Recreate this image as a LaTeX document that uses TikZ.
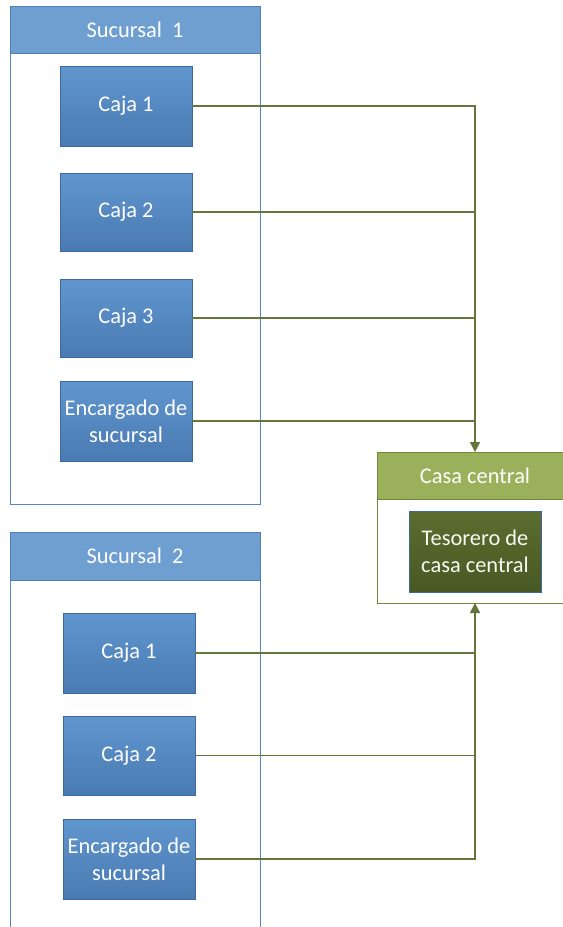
\documentclass[tikz,border=0pt]{standalone}
\usepackage{fontspec}
\setmainfont{Carlito}
\usetikzlibrary{arrows.meta}
\definecolor{contborder}{HTML}{5A86B8}
\definecolor{headfill}{HTML}{6E9FD0}
\definecolor{headborder}{HTML}{4F7FB5}
\definecolor{boxtop}{HTML}{6096CE}
\definecolor{boxbot}{HTML}{4A7AB2}
\definecolor{boxborder}{HTML}{3C6A9E}
\definecolor{ccfill}{HTML}{9BB05A}
\definecolor{ccborder}{HTML}{74863C}
\definecolor{testop}{HTML}{5C6D30}
\definecolor{tesbot}{HTML}{485823}
\definecolor{conncol}{HTML}{66763A}
\begin{document}
\begin{tikzpicture}[x=1bp,y=-1bp,
  every node/.style={inner sep=0pt,outer sep=0pt},
  container/.style={draw=contborder,line width=1bp,fill=white,anchor=north west},
  ccont/.style={draw=ccborder,line width=1bp,fill=white,anchor=north west},
  header/.style={draw=headborder,line width=1bp,fill=headfill,anchor=north west,text=white,font=\fontsize{22.5}{26}\selectfont},
  ccheader/.style={draw=ccborder,line width=1bp,fill=ccfill,anchor=north west,text=white,font=\fontsize{22.5}{26}\selectfont},
  bbox/.style={draw=boxborder,line width=0.8bp,top color=boxtop,bottom color=boxbot,anchor=north west,
    minimum width=132bp,minimum height=80bp,text=white,align=center,font=\fontsize{22.5}{27.5}\selectfont},
  tbox/.style={draw=boxborder,line width=0.8bp,top color=testop,bottom color=tesbot,anchor=north west,
    minimum width=132bp,minimum height=81bp,text=white!92!ccfill,align=center,font=\fontsize{22.5}{27.5}\selectfont},
  conn/.style={draw=conncol,line width=1.4bp},
  tip/.style={-{Triangle[width=10bp,length=10bp]}}
]
\useasboundingbox (0,0) rectangle (563,927);
\fill[white] (0,0) rectangle (563,927);

% Sucursal 1
\node[container,minimum width=250bp,minimum height=498bp] (s1) at (10,6) {};
\node[header,minimum width=250bp,minimum height=47bp] (s1h) at (10,6) {Sucursal\hspace{0.45em}1};
\node[bbox] (a1) at (60,66) {Caja 1};
\node[bbox,minimum height=78bp] (a2) at (60,173) {Caja 2};
\node[bbox,minimum height=78bp] (a3) at (60,279) {Caja 3};
\node[bbox] (a4) at (60,381) {Encargado de\\sucursal};

% Sucursal 2
\node[container,minimum width=250bp,minimum height=400bp] (s2) at (10,532) {};
\node[header,minimum width=250bp,minimum height=48bp] (s2h) at (10,532) {Sucursal\hspace{0.45em}2};
\node[bbox] (b1) at (63,613) {Caja 1};
\node[bbox,minimum height=79bp] (b2) at (63,716) {Caja 2};
\node[bbox] (b3) at (63,819) {Encargado de\\sucursal};

% Casa central
\node[ccont,minimum width=196bp,minimum height=151bp] (cc) at (377,452) {};
\node[ccheader,minimum width=196bp,minimum height=47bp] (cch) at (377,452) {Casa central};
\node[tbox] (t) at (409,511) {Tesorero de\\casa central};

% connectors
\draw[conn,tip] (a1.east) -| (cc.north);
\draw[conn] (a2.east) -- (a2.east -| cc.north);
\draw[conn] (a3.east) -- (a3.east -| cc.north);
\draw[conn] (a4.east) -- (a4.east -| cc.north);
\draw[conn,tip] (b3.east) -| (cc.south);
\draw[conn] (b1.east) -- (b1.east -| cc.south);
\draw[conn] (b2.east) -- (b2.east -| cc.south);
\end{tikzpicture}
\end{document}
